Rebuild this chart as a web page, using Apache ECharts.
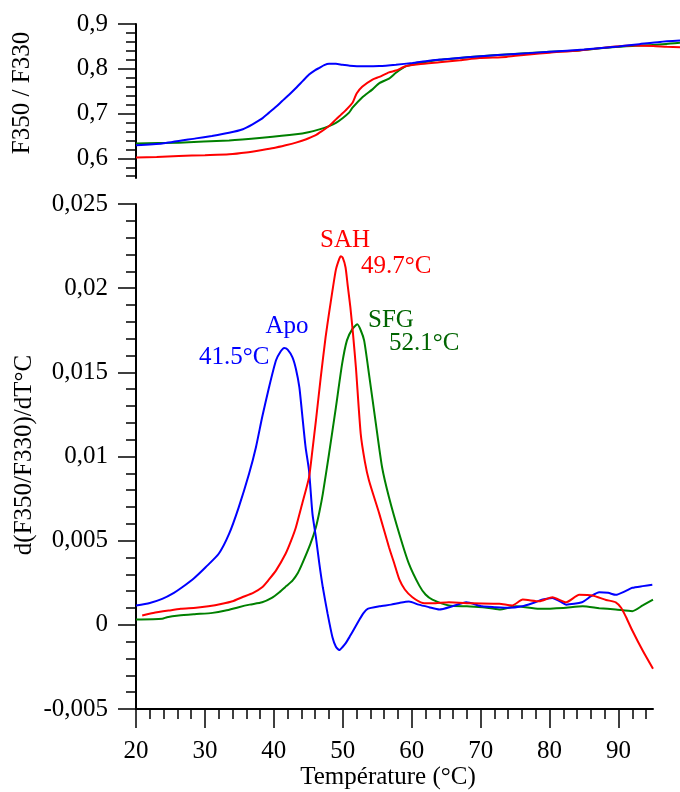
<!DOCTYPE html>
<html>
<head>
<meta charset="utf-8">
<script src="https://cdn.jsdelivr.net/npm/echarts@6/dist/echarts.min.js"></script>
<style>html,body{margin:0;padding:0;background:#fff;}#c{width:680px;height:792px;}</style>
</head>
<body>
<div id="c"></div>
<script>
// ---- Top panel: F350/F330 ratio ----
var apoRatioT = [20, 23.8, 28.7, 31, 33.5, 35.5, 36.9, 38.2, 39.3, 40.3, 41.2, 42.2, 43.2, 44.2, 45.1, 46.0, 46.6, 47.3, 48.0, 49.0, 49.9, 51, 52.8, 55.3, 57.7, 60.1, 62.5, 66, 70, 75, 80, 85, 90, 93, 96, 98.9];
var apoRatio  = [0.629, 0.633, 0.6445, 0.650, 0.657, 0.665, 0.676, 0.688, 0.702, 0.715, 0.728, 0.742, 0.757, 0.773, 0.787, 0.797, 0.802, 0.808, 0.811, 0.811, 0.809, 0.807, 0.8056, 0.806, 0.809, 0.813, 0.818, 0.823, 0.828, 0.833, 0.838, 0.843, 0.850, 0.855, 0.860, 0.863];

var sahRatioT = [20, 23, 26.2, 30, 33.5, 36, 38.3, 40, 41.7, 43.2, 44.6, 46, 47.0, 48.0, 49.0, 49.7, 50.4, 51.4, 52.0, 52.8, 54.3, 55.3, 56.7, 57.7, 59.1, 61, 64, 67, 69.8, 73.7, 77, 80, 84.3, 89.1, 92, 95, 97, 98.9];
var sahRatio  = [0.6016, 0.603, 0.605, 0.607, 0.609, 0.613, 0.6185, 0.623, 0.629, 0.635, 0.642, 0.651, 0.661, 0.672, 0.687, 0.697, 0.707, 0.724, 0.745, 0.760, 0.776, 0.782, 0.792, 0.796, 0.8055, 0.810, 0.8145, 0.819, 0.824, 0.8265, 0.832, 0.836, 0.841, 0.849, 0.852, 0.851, 0.849, 0.848];

var sfgRatioT = [20, 26.2, 33.5, 38.3, 43.2, 45, 46.6, 48, 49.0, 50.0, 50.9, 51.4, 52.8, 54.3, 55.3, 56.7, 57.7, 59.1, 61, 64, 67, 70, 73.7, 77, 80, 84.3, 89, 92, 95, 98.9];
var sfgRatio  = [0.633, 0.635, 0.640, 0.646, 0.6535, 0.658, 0.6646, 0.672, 0.679, 0.690, 0.702, 0.713, 0.736, 0.754, 0.768, 0.778, 0.791, 0.8055, 0.812, 0.820, 0.824, 0.828, 0.832, 0.835, 0.838, 0.841, 0.848, 0.851, 0.853, 0.858];

// ---- Bottom panel: first derivative ----
var apoDerivT = [20, 22, 23.8, 25.5, 26.7, 28.5, 30.1, 32.0, 33.5, 34.9, 36.4, 37.4, 38.3, 39.3, 40.3, 41.0, 41.5, 42.0, 42.7, 43.2, 43.7, 44.1, 44.6, 45.1, 45.6, 46.1, 46.6, 47.1, 47.8, 48.5, 49.0, 49.5, 50.0, 50.4, 51.0, 51.7, 52.4, 53.0, 53.6, 55.3, 57, 58.2, 59.6, 61, 62.5, 64, 65.9, 67.9, 70.2, 72, 74.1, 76, 77.5, 79, 80.4, 81.5, 82.4, 84.7, 86, 87.2, 88.5, 89.6, 91, 92.0, 93.5, 94.9];
var apoDeriv  = [0.00115, 0.0013, 0.00154, 0.0019, 0.00223, 0.0028, 0.00342, 0.00422, 0.0054, 0.00698, 0.00897, 0.01055, 0.01233, 0.01411, 0.0157, 0.01625, 0.01645, 0.01635, 0.01589, 0.0152, 0.01411, 0.01253, 0.01055, 0.00916, 0.00659, 0.0052, 0.00362, 0.00223, 0.00065, -0.00074, -0.0013, -0.0015, -0.0013, -0.0011, -0.0007, -0.0002, 0.0003, 0.0007, 0.00095, 0.0011, 0.0012, 0.0013, 0.00138, 0.0012, 0.00105, 0.00091, 0.0011, 0.00134, 0.0011, 0.00105, 0.00101, 0.0011, 0.00128, 0.0015, 0.0016, 0.0014, 0.0012, 0.00134, 0.0017, 0.00194, 0.0019, 0.00178, 0.002, 0.0022, 0.0023, 0.00238];

var sahDerivT = [20.9, 22.5, 24.8, 26.5, 28.7, 30.5, 32.5, 34, 35.4, 37, 38.3, 39.3, 40.3, 41.7, 42.5, 43.2, 44.1, 45.1, 45.6, 46.1, 46.8, 47.5, 48.0, 48.5, 49.0, 49.5, 49.7, 50.0, 50.4, 50.7, 51.1, 51.5, 51.9, 52.6, 53.2, 53.8, 55.3, 56.7, 57.5, 58.2, 59, 60.1, 61.6, 63, 65.4, 68.8, 72.7, 74.6, 76.1, 78.5, 80.4, 82.4, 84.3, 86.2, 88.2, 89.6, 90.4, 91.1, 92.0, 93.5, 95.0];
var sahDeriv  = [0.00055, 0.0007, 0.00085, 0.00095, 0.00101, 0.0011, 0.00125, 0.0014, 0.00164, 0.0019, 0.00223, 0.0027, 0.00322, 0.00422, 0.0050, 0.0058, 0.00718, 0.00876, 0.0104, 0.01213, 0.0147, 0.01708, 0.0185, 0.01985, 0.0211, 0.02175, 0.0219, 0.0218, 0.02123, 0.0202, 0.01886, 0.0172, 0.0153, 0.01134, 0.0097, 0.00857, 0.00659, 0.00461, 0.0036, 0.0027, 0.0021, 0.00164, 0.0013, 0.00128, 0.00134, 0.00128, 0.00125, 0.00115, 0.0015, 0.0014, 0.00164, 0.00134, 0.00178, 0.00174, 0.00148, 0.00134, 0.0010, 0.00045, -0.00034, -0.00153, -0.00261];

var sfgDerivT = [20, 23.8, 24.5, 26.2, 28.5, 31.1, 33, 34.9, 36.5, 38.3, 39.7, 40.8, 41.8, 42.7, 43.5, 44.1, 45.3, 46.1, 46.6, 47.1, 48.0, 49.0, 49.9, 50.6, 51.4, 52.1, 52.6, 53.1, 53.8, 54.8, 55.7, 56.7, 58.2, 59.6, 61.1, 62, 63.0, 65.4, 68, 70.3, 72.7, 75.1, 78.5, 82, 84.8, 87.2, 89.6, 92.0, 93.5, 95.0];
var sfgDeriv  = [0.00031, 0.00036, 0.00045, 0.00055, 0.00063, 0.00071, 0.00085, 0.00105, 0.0012, 0.00134, 0.0016, 0.00194, 0.0023, 0.00263, 0.0031, 0.00362, 0.00481, 0.0058, 0.0067, 0.00778, 0.01015, 0.01292, 0.0155, 0.0169, 0.01758, 0.01785, 0.0175, 0.01688, 0.0149, 0.01194, 0.00936, 0.00758, 0.0054, 0.00362, 0.00233, 0.0018, 0.0015, 0.00115, 0.0011, 0.00105, 0.00091, 0.0011, 0.00095, 0.001, 0.0011, 0.00099, 0.00091, 0.00081, 0.00115, 0.0015];

// ---- Tick values ----
var xMajorTicks = [20, 30, 40, 50, 60, 70, 80, 90];
var xMinorTicks = [22, 24, 26, 28, 32, 34, 36, 38, 42, 44, 46, 48, 52, 54, 56, 58, 62, 64, 66, 68, 72, 74, 76, 78, 82, 84, 86, 88, 92, 94];
var topMajorTicks = [0.6, 0.7, 0.8, 0.9];
var topMinorTicks = [0.56, 0.58, 0.62, 0.64, 0.66, 0.68, 0.72, 0.74, 0.76, 0.78, 0.82, 0.84, 0.86, 0.88];

var BLUE = '#0000ff', RED = '#ff0000', GREEN = '#008000';
var FONT = '"Liberation Serif", "Times New Roman", serif';

function zip(xs, ys) { return xs.map(function (x, i) { return [x, ys[i]]; }); }
function fmt(v) { return String(+(+v).toFixed(4)).replace('.', ','); }

var axisLineStyle = { show: true, onZero: false, lineStyle: { color: '#000', width: 2 } };
var hiddenLine = { show: false, onZero: false };
var labelStyle = { color: '#000', fontFamily: FONT, fontSize: 25 };
var tickStyle = { color: '#000', width: 1.5 };

function lineSeries(xi, yi, xs, ys, color) {
  return { type: 'line', xAxisIndex: xi, yAxisIndex: yi, data: zip(xs, ys), showSymbol: false,
           smooth: 0.2, lineStyle: { color: color, width: 2 } };
}

var chart = echarts.init(document.getElementById('c'), null, { renderer: 'canvas' });
chart.setOption({
  animation: false,
  backgroundColor: '#fff',
  grid: [
    { left: 136, top: 24, width: 544, height: 154 },
    { left: 136, top: 204, width: 517, height: 505 }
  ],
  xAxis: [
    { gridIndex: 0, type: 'value', min: 20, max: 98.9, show: false },
    { gridIndex: 1, type: 'value', position: 'bottom', min: 20, max: 95,
      axisLine: axisLineStyle,
      axisTick: { show: true, inside: false, length: 19, lineStyle: tickStyle, customValues: xMajorTicks },
      axisLabel: Object.assign({ margin: 30, customValues: xMajorTicks, formatter: fmt }, labelStyle),
      splitLine: { show: false } },
    { gridIndex: 1, type: 'value', position: 'bottom', min: 20, max: 95,
      axisLine: hiddenLine,
      axisTick: { show: true, inside: false, length: 10, lineStyle: tickStyle, customValues: xMinorTicks },
      axisLabel: { show: false },
      splitLine: { show: false } }
  ],
  yAxis: [
    { gridIndex: 0, type: 'value', position: 'left', min: 0.556, max: 0.9,
      axisLine: axisLineStyle,
      axisTick: { show: true, inside: false, length: 18, lineStyle: tickStyle, customValues: topMajorTicks },
      axisLabel: Object.assign({ margin: 28, customValues: topMajorTicks, formatter: fmt }, labelStyle),
      splitLine: { show: false } },
    { gridIndex: 0, type: 'value', position: 'left', min: 0.556, max: 0.9,
      axisLine: hiddenLine,
      axisTick: { show: true, inside: false, length: 10, lineStyle: tickStyle, customValues: topMinorTicks },
      axisLabel: { show: false },
      splitLine: { show: false } },
    { gridIndex: 1, type: 'value', position: 'left', min: -0.005, max: 0.025, interval: 0.005,
      axisLine: axisLineStyle,
      axisTick: { show: true, inside: false, length: 18, lineStyle: tickStyle },
      axisLabel: Object.assign({ margin: 28, formatter: fmt }, labelStyle),
      splitLine: { show: false } },
    { gridIndex: 1, type: 'value', position: 'left', min: -0.005, max: 0.025, interval: 0.001,
      axisLine: hiddenLine,
      axisTick: { show: true, inside: false, length: 10, lineStyle: tickStyle },
      axisLabel: { show: false },
      splitLine: { show: false } }
  ],
  series: [
    lineSeries(0, 0, sfgRatioT, sfgRatio, GREEN),
    lineSeries(0, 0, sahRatioT, sahRatio, RED),
    lineSeries(0, 0, apoRatioT, apoRatio, BLUE),
    lineSeries(1, 2, sfgDerivT, sfgDeriv, GREEN),
    lineSeries(1, 2, apoDerivT, apoDeriv, BLUE),
    lineSeries(1, 2, sahDerivT, sahDeriv, RED)
  ],
  graphic: [
    { type: 'text', x: 22, y: 93, rotation: Math.PI / 2, style: { text: 'F350 / F330', fill: '#000', font: '25px ' + FONT, align: 'center', verticalAlign: 'middle' } },
    { type: 'text', x: 24, y: 455, rotation: Math.PI / 2, style: { text: 'd(F350/F330)/dT°C', fill: '#000', font: '25px ' + FONT, align: 'center', verticalAlign: 'middle' } },
    { type: 'text', x: 388, y: 777, style: { text: 'Température (°C)', fill: '#000', font: '25px ' + FONT, align: 'center', verticalAlign: 'middle' } },
    { type: 'text', x: 345, y: 240, style: { text: 'SAH', fill: RED, font: '25px ' + FONT, align: 'center', verticalAlign: 'middle' } },
    { type: 'text', x: 361, y: 266, style: { text: '49.7°C', fill: RED, font: '25px ' + FONT, align: 'left', verticalAlign: 'middle' } },
    { type: 'text', x: 287, y: 326, style: { text: 'Apo', fill: BLUE, font: '25px ' + FONT, align: 'center', verticalAlign: 'middle' } },
    { type: 'text', x: 199, y: 357, style: { text: '41.5°C', fill: BLUE, font: '25px ' + FONT, align: 'left', verticalAlign: 'middle' } },
    { type: 'text', x: 368, y: 320, style: { text: 'SFG', fill: '#006400', font: '25px ' + FONT, align: 'left', verticalAlign: 'middle' } },
    { type: 'text', x: 389, y: 343, style: { text: '52.1°C', fill: '#006400', font: '25px ' + FONT, align: 'left', verticalAlign: 'middle' } }
  ]
});
</script>
</body>
</html>
